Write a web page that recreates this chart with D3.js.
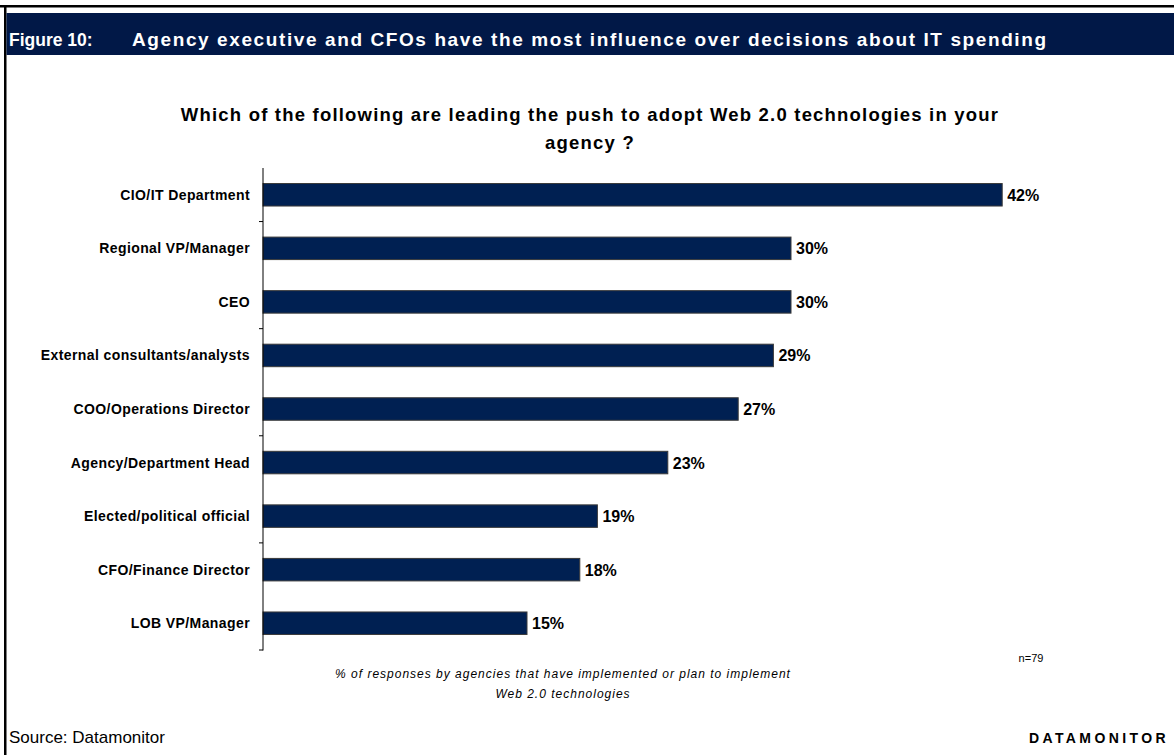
<!DOCTYPE html>
<html>
<head>
<meta charset="utf-8">
<script src="https://cdn.jsdelivr.net/npm/d3@7"></script>
<style>
  html, body { margin: 0; padding: 0; background: #fff; }
  svg { display: block; font-family: Arial, "Liberation Sans", sans-serif; }
</style>
</head>
<body>
<svg id="chart" width="1174" height="755"></svg>
<script>
// Survey responses: who leads the push to adopt Web 2.0 (share of agencies, %)
const categories = [
  "CIO/IT Department",
  "Regional VP/Manager",
  "CEO",
  "External consultants/analysts",
  "COO/Operations Director",
  "Agency/Department Head",
  "Elected/political official",
  "CFO/Finance Director",
  "LOB VP/Manager"
];
const values = [42, 30, 30, 29, 27, 23, 19, 18, 15];
const figureLabel = "Figure 10:";
const figureTitle = "Agency executive and CFOs have the most influence over decisions about IT spending";
const questionLines = [
  "Which of the following are leading the push to adopt Web 2.0 technologies in your",
  "agency ?"
];
const noteLines = [
  "% of responses by agencies that have implemented or plan to implement",
  "Web 2.0 technologies"
];
const sampleNote = "n=79";
const sourceNote = "Source: Datamonitor";
const brand = "DATAMONITOR";

const svg = d3.select("#chart");
const W = 1174, H = 755;
const navy = "#011847";
const barFill = "#002052";

// Frame: top rule and left rule
svg.append("rect").attr("x", 0).attr("y", 5).attr("width", W).attr("height", 2.5).attr("fill", "#000");
svg.append("rect").attr("x", 4).attr("y", 5).attr("width", 2.5).attr("height", H - 5).attr("fill", "#000");

// Header band
svg.append("rect").attr("x", 6.5).attr("y", 13).attr("width", W - 6.5).attr("height", 42).attr("fill", navy);
svg.append("text").attr("x", 9).attr("y", 46)
  .attr("fill", "#fff").attr("font-weight", "bold").attr("font-size", 17.5)
  .text(figureLabel);
svg.append("text").attr("x", 132).attr("y", 46)
  .attr("fill", "#fff").attr("font-weight", "bold").attr("font-size", 19)
  .attr("letter-spacing", 1.6)
  .text(figureTitle);

// Question heading
svg.append("g").selectAll("text").data(questionLines).join("text")
  .attr("x", 590).attr("y", (d, i) => 121 + i * 28)
  .attr("text-anchor", "middle").attr("font-weight", "bold").attr("font-size", 18.5)
  .attr("letter-spacing", 1.2).attr("fill", "#000")
  .text(d => d);

// Scales
const plotLeft = 263, plotTop = 168, plotBottom = 650;
const x = d3.scaleLinear().domain([0, 50]).range([plotLeft, plotLeft + 50 * 17.6]);
const y = d3.scaleBand().domain(categories).range([plotTop, plotBottom]).paddingInner(0.58).paddingOuter(0.29);

// Bars
svg.append("g").selectAll("rect").data(categories).join("rect")
  .attr("x", x(0))
  .attr("y", d => y(d))
  .attr("width", (d, i) => x(values[i]) - x(0))
  .attr("height", y.bandwidth())
  .attr("fill", barFill)
  .attr("stroke", "#3a3a3a").attr("stroke-width", 1);

// Value labels
svg.append("g").selectAll("text").data(categories).join("text")
  .attr("x", (d, i) => x(values[i]) + 5)
  .attr("y", d => y(d) + y.bandwidth() / 2 + 6)
  .attr("font-weight", "bold").attr("font-size", 16).attr("fill", "#000")
  .text((d, i) => values[i] + "%");

// Category axis: line with a tick at every other band boundary (from the bottom)
const step = (plotBottom - plotTop) / categories.length;
const axisG = svg.append("g");
axisG.append("line").attr("x1", plotLeft).attr("x2", plotLeft)
  .attr("y1", plotTop).attr("y2", plotBottom + 0.5).attr("stroke", "#000").attr("stroke-width", 1);
const tickIdx = d3.range(1, categories.length + 1).filter(i => (categories.length - i) % 2 === 0);
axisG.selectAll("line.tick").data(tickIdx).join("line").attr("class", "tick")
  .attr("x1", plotLeft - 4).attr("x2", plotLeft)
  .attr("y1", i => plotTop + i * step).attr("y2", i => plotTop + i * step)
  .attr("stroke", "#000").attr("stroke-width", 1);

// Category labels
axisG.selectAll("text").data(categories).join("text")
  .attr("x", 250)
  .attr("y", d => y(d) + y.bandwidth() / 2 + 5)
  .attr("text-anchor", "end").attr("font-weight", "bold").attr("font-size", 14)
  .attr("letter-spacing", 0.4).attr("fill", "#000")
  .text(d => d);

// Footnote under the axis
svg.append("g").selectAll("text").data(noteLines).join("text")
  .attr("x", 563).attr("y", (d, i) => 678 + i * 20)
  .attr("text-anchor", "middle").attr("font-style", "italic").attr("font-size", 12)
  .attr("letter-spacing", 1.0).attr("fill", "#000")
  .text(d => d);

svg.append("text").attr("x", 1031).attr("y", 662)
  .attr("text-anchor", "middle").attr("font-size", 11).attr("fill", "#000")
  .text(sampleNote);

// Footer
svg.append("text").attr("x", 9).attr("y", 743)
  .attr("font-size", 17).attr("fill", "#000")
  .text(sourceNote);
svg.append("text").attr("x", 1169).attr("y", 743)
  .attr("text-anchor", "end").attr("font-weight", "bold").attr("font-size", 14)
  .attr("letter-spacing", 3.4).attr("fill", "#000")
  .text(brand);
</script>
</body>
</html>
